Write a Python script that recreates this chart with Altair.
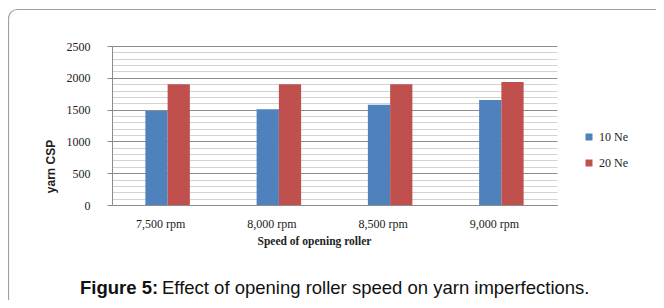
import altair as alt
import pandas as pd

speeds = ["7,500 rpm", "8,000 rpm", "8,500 rpm", "9,000 rpm"]
series = ["10 Ne", "20 Ne"]
ne10 = [1478, 1504, 1577, 1651]
ne20 = [1900, 1900, 1897, 1932]
colors = ["#4F81BD", "#C0504D"]
y_ticks = list(range(0, 2501, 100))

caption_bold = "Figure 5:"
caption_rest = "Effect of opening roller speed on yarn imperfections."

rows = []
for s, a, b in zip(speeds, ne10, ne20):
    rows.append({"speed": s, "series": series[0], "csp": a})
    rows.append({"speed": s, "series": series[1], "csp": b})
df = pd.DataFrame(rows)

major = "datum.value % 500 === 0"

bars = alt.Chart(df).mark_bar().encode(
    x=alt.X("speed:N", sort=speeds,
            scale=alt.Scale(paddingInner=0.6, paddingOuter=0.3),
            axis=alt.Axis(title="Speed of opening roller", labelAngle=0,
                          labelFont="Liberation Serif", labelFontSize=12,
                          labelColor="#222", labelOffset=-7, labelPadding=13,
                          ticks=False, tickSize=0, domainColor="#8c8c8c",
                          titleFont="Liberation Serif", titleFontSize=11.5,
                          titleFontWeight="bold", titleColor="#222",
                          titleX=202, titleY=36, titleBaseline="middle",
                          titleAlign="center")),
    xOffset=alt.XOffset("series:N", sort=series,
                        scale=alt.Scale(paddingInner=0, paddingOuter=0)),
    y=alt.Y("csp:Q", scale=alt.Scale(domain=[0, 2500], nice=False),
            axis=alt.Axis(title="yarn CSP", values=y_ticks,
                          labelExpr="datum.value % 500 === 0 ? datum.label : ''",
                          format="d",
                          labelFont="Liberation Serif", labelFontSize=12,
                          labelColor="#222", labelPadding=17, tickSize=5,
                          tickColor="#8c8c8c",
                          tickOpacity={"condition": {"test": major, "value": 1}, "value": 0},
                          gridColor={"condition": {"test": major, "value": "#8c8c8c"}, "value": "#d2d2d2"},
                          gridWidth=1, domainColor="#8c8c8c",
                          titleFont="Liberation Sans", titleFontSize=12,
                          titleFontWeight="bold", titleColor="#222",
                          titleX=-62, titleY=120, titleAngle=-90,
                          titleAlign="center", titleBaseline="middle")),
    color=alt.Color("series:N", sort=series,
                    scale=alt.Scale(domain=series, range=colors),
                    legend=alt.Legend(title=None, orient="none", legendX=471, legendY=85,
                                      symbolType="square", symbolSize=49,
                                      symbolStrokeWidth=0, labelFont="Liberation Serif",
                                      labelFontSize=12, labelColor="#222",
                                      rowPadding=14, labelOffset=4, padding=0)),
)

one = alt.Data(values=[{}])

border = alt.Chart(one).mark_rect(
    fill="white", fillOpacity=0, stroke="#a0a0a0", strokeWidth=1.2, cornerRadius=9
).encode(x=alt.value(-103.5), x2=alt.value(700), y=alt.value(-36.5), y2=alt.value(400))

cap1 = alt.Chart(one).mark_text(
    text=caption_bold, font="Liberation Sans", fontSize=18.5, fontWeight="bold",
    align="left", baseline="alphabetic", color="#111"
).encode(x=alt.value(-32), y=alt.value(248))

cap2 = alt.Chart(one).mark_text(
    text=caption_rest, font="Liberation Sans", fontSize=18.5,
    align="left", baseline="alphabetic", color="#111"
).encode(x=alt.value(50), y=alt.value(248))

chart = alt.layer(border, bars, cap1, cap2).properties(
    width=445, height=159,
    padding={"left": 104, "top": 38, "right": 99, "bottom": 95},
    autosize=alt.AutoSizeParams(type="none"),
    background="white",
).configure_view(strokeWidth=0)

chart.save("out.html", embed_options={"renderer": "svg", "actions": False})
